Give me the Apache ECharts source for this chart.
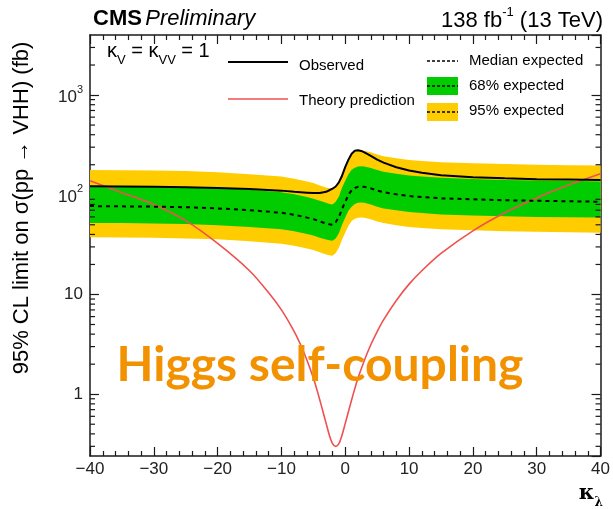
<!DOCTYPE html>
<html>
<head>
<meta charset="utf-8">
<script src="https://cdn.jsdelivr.net/npm/echarts@6/dist/echarts.min.js"></script>
<style>
  html, body { margin: 0; padding: 0; background: #fff; }
  #chart { width: 613px; height: 509px; }
</style>
</head>
<body>
<div id="chart"></div>
<script>
// kappa_lambda scan points
const kappa = [-40, -35, -30, -25, -20, -15, -10, -8, -6, -5, -4, -3, -2.5, -2, -1.5, -1, -0.5, 0, 0.5, 1, 1.5, 2, 2.5, 3, 4, 5, 6, 8, 10, 12, 15, 20, 25, 30, 35, 40];

// 95% CL upper limits on sigma(pp -> VHH) in fb
const observed  = [122, 121, 120, 119, 117, 114, 110, 107, 105, 104, 104, 107, 111, 115, 121, 133, 155, 190, 225, 258, 276, 280, 275, 266, 245, 225, 210, 189, 175, 166, 157, 150, 146, 143, 142, 141];
const expMedian = [77, 76.5, 76, 75, 73, 70, 66, 63, 59, 57, 54, 51.5, 50.5, 50, 53, 60, 72, 85, 100, 111, 117, 120, 121, 120, 116, 110, 106, 101, 97, 95, 92, 90, 88, 87, 86, 85];
const exp68Up   = [123, 122, 121, 120, 117, 112, 106, 101, 95, 91, 87, 83, 81, 80, 85, 96, 118, 138, 161, 178, 187, 192, 193, 192, 186, 177, 170, 162, 156, 152, 148, 144, 141, 139, 138, 136];
const exp68Down = [52, 52, 51.5, 51, 49.5, 47.5, 45, 43, 40.5, 39, 37, 35.5, 35, 34.5, 36.5, 41, 50, 59, 69, 76, 81, 83, 83.5, 83, 80, 76, 73, 70, 67, 65.5, 63.5, 62, 61, 60, 59.5, 59];
const exp95Up   = [177, 176, 175, 173, 168, 161, 152, 145, 136, 131, 124, 118, 116, 115, 122, 138, 168, 197, 230, 255, 269, 276, 278, 276, 267, 253, 244, 232, 223, 218, 212, 207, 203, 200, 198, 196];
const exp95Down = [37.5, 37.3, 37, 36.5, 35.7, 34.2, 32.3, 30.8, 28.9, 27.9, 26.5, 25.2, 24.7, 24.5, 26, 29.4, 35.5, 41.8, 49, 54.4, 57.3, 58.8, 59.3, 58.8, 56.8, 53.9, 52, 49.5, 47.5, 46.5, 45, 44, 43, 42.6, 42.1, 41.6];

// theory prediction for VHH cross section (fb)
const theoryKappa = [-40, -35, -30, -25, -20, -15, -12, -10, -8, -7, -6, -5, -4.5, -4, -3.5, -3, -2.5, -2, -1.5, -1, -0.5, 0, 0.5, 1, 1.5, 2, 3, 4, 5, 6, 8, 10, 12, 15, 20, 25, 30, 35, 40];
const theory      = [138, 105, 80, 55, 32.5, 17.3, 10.4, 7.0, 4.25, 3.13, 2.19, 1.45, 1.14, 0.88, 0.67, 0.51, 0.39, 0.32, 0.30, 0.32, 0.39, 0.51, 0.67, 0.88, 1.14, 1.45, 2.19, 3.13, 4.25, 5.56, 8.7, 12.7, 17.3, 25.8, 43.5, 66, 93, 125, 162];

// axis ranges and tick values
const xRange = [-40, 40];
const yRange = [0.24, 4000];
const yMajorLabels = { 1: '1', 10: '10', 100: '{b|10}{s|2}', 1000: '{b|10}{s|3}' };
const yMinorTicks = [0.3, 0.4, 0.5, 0.6, 0.7, 0.8, 0.9, 2, 3, 4, 5, 6, 7, 8, 9, 20, 30, 40, 50, 60, 70, 80, 90, 200, 300, 400, 500, 600, 700, 800, 900, 2000, 3000];

const FONT = '"Liberation Sans", Arial, sans-serif';
const AXIS_COLOR = '#1a1a1a';
const GREEN = '#00cc00';
const YELLOW = '#ffcc00';
const RED = '#ef5050';

const chart = echarts.init(document.getElementById('chart'), null, { renderer: 'canvas' });

function bandPolygon(api, up, down, color) {
  const pts = [];
  for (let i = 0; i < kappa.length; i++) pts.push(api.coord([kappa[i], up[i]]));
  for (let i = kappa.length - 1; i >= 0; i--) pts.push(api.coord([kappa[i], down[i]]));
  return { type: 'polygon', shape: { points: pts }, style: { fill: color } };
}

const xAxisCommon = {
  type: 'value', min: xRange[0], max: xRange[1], interval: 10,
  axisLine: { onZero: false, lineStyle: { color: AXIS_COLOR, width: 1.5 } },
  axisTick: { inside: true, length: 9, lineStyle: { color: AXIS_COLOR, width: 1.2 } },
  minorTick: { show: true, splitNumber: 5, length: 5, lineStyle: { color: AXIS_COLOR, width: 1.2 } },
  splitLine: { show: false }
};
const yAxisCommon = {
  type: 'log', logBase: 10, min: yRange[0], max: yRange[1],
  axisLine: { onZero: false, lineStyle: { color: AXIS_COLOR, width: 1.5 } },
  axisTick: { inside: true, length: 9, lineStyle: { color: AXIS_COLOR, width: 1.2 } },
  splitLine: { show: false }
};

const option = {
  animation: false,
  backgroundColor: '#fff',
  grid: { left: 90, right: 11, top: 35, bottom: 53 },
  xAxis: [
    Object.assign({}, xAxisCommon, {
      position: 'bottom',
      axisLabel: {
        fontFamily: FONT, fontSize: 17, color: '#222', margin: 5,
        formatter: v => (v < 0 ? '\u2212' + (-v) : String(v))
      }
    }),
    Object.assign({}, xAxisCommon, { position: 'top', axisLabel: { show: false } })
  ],
  yAxis: [
    Object.assign({}, yAxisCommon, {
      position: 'left',
      axisLabel: {
        fontFamily: FONT, fontSize: 17, color: '#222', margin: 7,
        showMinLabel: false, showMaxLabel: false,
        formatter: v => yMajorLabels[Math.round(v * 1000) / 1000] || '',
        rich: {
          b: { fontFamily: FONT, fontSize: 17, color: '#222', lineHeight: 22, verticalAlign: 'bottom' },
          s: { fontFamily: FONT, fontSize: 11, color: '#222', lineHeight: 22, verticalAlign: 'top' }
        }
      }
    }),
    Object.assign({}, yAxisCommon, { position: 'right', axisLabel: { show: false } })
  ],
  series: [
    {
      // expected 95% and 68% bands
      type: 'custom', xAxisIndex: 0, yAxisIndex: 0, z: 1, silent: true,
      data: [[0, 100]],
      renderItem: (params, api) => ({
        type: 'group',
        children: [
          bandPolygon(api, exp95Up, exp95Down, YELLOW),
          bandPolygon(api, exp68Up, exp68Down, GREEN)
        ]
      })
    },
    {
      // log-axis minor ticks on left and right frame edges
      type: 'custom', xAxisIndex: 0, yAxisIndex: 0, z: 10, silent: true,
      data: yMinorTicks.map(v => [0, v]),
      renderItem: (params, api) => {
        const v = api.value(1);
        const l = api.coord([xRange[0], v]);
        const r = api.coord([xRange[1], v]);
        const st = { stroke: AXIS_COLOR, lineWidth: 1.2 };
        return {
          type: 'group',
          children: [
            { type: 'line', shape: { x1: l[0], y1: l[1], x2: l[0] + 5, y2: l[1] }, style: st },
            { type: 'line', shape: { x1: r[0], y1: r[1], x2: r[0] - 5, y2: r[1] }, style: st }
          ]
        };
      }
    },
    {
      name: 'Theory prediction', type: 'line', z: 4, symbol: 'none', smooth: 0.3,
      data: theoryKappa.map((k, i) => [k, theory[i]]),
      lineStyle: { color: RED, width: 1.6 }
    },
    {
      name: 'Median expected', type: 'line', z: 5, symbol: 'none',
      data: kappa.map((k, i) => [k, expMedian[i]]),
      lineStyle: { color: '#000', width: 2, type: [4, 4] }
    },
    {
      name: 'Observed', type: 'line', z: 6, symbol: 'none',
      data: kappa.map((k, i) => [k, observed[i]]),
      lineStyle: { color: '#000', width: 2 }
    }
  ],
  graphic: [
    {
      type: 'text', x: 93, y: 19, z: 20,
      style: {
        text: '{b|CMS} {i|Preliminary}', verticalAlign: 'middle',
        rich: {
          b: { font: 'bold 22px ' + FONT, fill: '#000' },
          i: { font: 'italic 22px ' + FONT, fill: '#000' }
        }
      }
    },
    {
      type: 'text', x: 603, y: 19, z: 20,
      style: {
        text: '{n|138 fb}{s|-1}{n| (13 TeV)}', align: 'right', verticalAlign: 'middle',
        rich: {
          n: { font: '22px ' + FONT, fill: '#000', lineHeight: 26, verticalAlign: 'bottom' },
          s: { font: '13px ' + FONT, fill: '#000', lineHeight: 26, verticalAlign: 'top' }
        }
      }
    },
    {
      // y-axis title
      type: 'text', x: 22, y: 208, rotation: Math.PI / 2, z: 20,
      style: {
        text: '95% CL limit on \u03c3(pp \u2192 VHH) (fb)', align: 'center', verticalAlign: 'middle',
        font: '22px ' + FONT, fill: '#000'
      }
    },
    {
      // x-axis title
      type: 'text', x: 603, y: 496, z: 20,
      style: {
        text: '{k|\u03ba}{l|\u03bb}', align: 'right', verticalAlign: 'middle',
        rich: {
          k: { font: 'bold 21px "DejaVu Serif", serif', fill: '#000', lineHeight: 26, verticalAlign: 'top' },
          l: { font: 'bold 12px "DejaVu Serif", serif', fill: '#000', lineHeight: 26, verticalAlign: 'bottom' }
        }
      }
    },
    {
      type: 'text', x: 107, y: 54, z: 20,
      style: {
        text: '{k|\u03ba}{s|V}{k| = \u03ba}{s|VV}{k| = 1}', verticalAlign: 'middle',
        rich: {
          k: { font: '20px ' + FONT, fill: '#000', lineHeight: 26, verticalAlign: 'top' },
          s: { font: '13px ' + FONT, fill: '#000', lineHeight: 26, verticalAlign: 'bottom' }
        }
      }
    },
    // legend: left column
    { type: 'line', z: 20, shape: { x1: 228, y1: 62, x2: 288, y2: 62 }, style: { stroke: '#000', lineWidth: 2 } },
    { type: 'text', x: 299, y: 66, z: 20, style: { text: 'Observed', font: '15px ' + FONT, fill: '#000', verticalAlign: 'middle' } },
    { type: 'line', z: 20, shape: { x1: 228, y1: 99, x2: 288, y2: 99 }, style: { stroke: RED, lineWidth: 1.6 } },
    { type: 'text', x: 299, y: 101, z: 20, style: { text: 'Theory prediction', font: '15px ' + FONT, fill: '#000', verticalAlign: 'middle' } },
    // legend: right column
    { type: 'line', z: 20, shape: { x1: 427, y1: 61, x2: 458, y2: 61 }, style: { stroke: '#000', lineWidth: 1.6, lineDash: [3, 2] } },
    { type: 'text', x: 469, y: 61, z: 20, style: { text: 'Median expected', font: '15px ' + FONT, fill: '#000', verticalAlign: 'middle' } },
    { type: 'rect', z: 20, shape: { x: 427, y: 77, width: 31, height: 18 }, style: { fill: GREEN } },
    { type: 'line', z: 21, shape: { x1: 427, y1: 86, x2: 458, y2: 86 }, style: { stroke: '#000', lineWidth: 1.6, lineDash: [3, 2] } },
    { type: 'text', x: 469, y: 86, z: 20, style: { text: '68% expected', font: '15px ' + FONT, fill: '#000', verticalAlign: 'middle' } },
    { type: 'rect', z: 20, shape: { x: 427, y: 103, width: 31, height: 18 }, style: { fill: YELLOW } },
    { type: 'line', z: 21, shape: { x1: 427, y1: 112, x2: 458, y2: 112 }, style: { stroke: '#000', lineWidth: 1.6, lineDash: [3, 2] } },
    { type: 'text', x: 469, y: 111, z: 20, style: { text: '95% expected', font: '15px ' + FONT, fill: '#000', verticalAlign: 'middle' } },
    // headline overlay
    {
      type: 'text', x: 320, y: 366, z: 30,
      style: { text: 'Higgs self-coupling', font: 'bold 48px Lato, "Open Sans", sans-serif', fill: '#f39200', align: 'center', verticalAlign: 'middle' }
    }
  ]
};

chart.setOption(option);
</script>
</body>
</html>
